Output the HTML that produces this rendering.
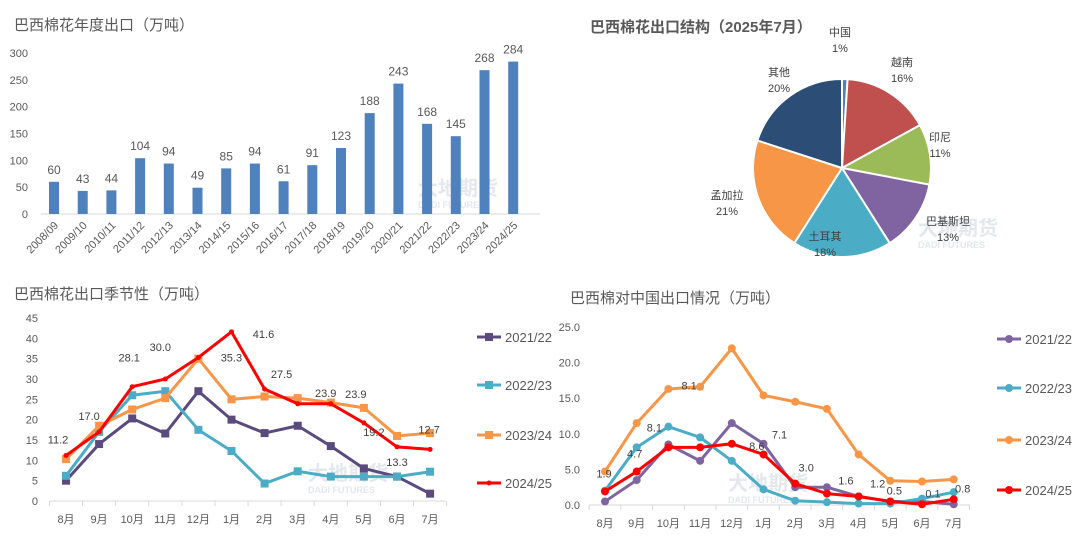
<!DOCTYPE html>
<html><head><meta charset="utf-8">
<style>
body{margin:0;background:#fff;width:1080px;height:546px;overflow:hidden;font-family:"Liberation Sans","Noto Sans CJK SC",sans-serif;}
svg text{font-family:"Liberation Sans","Noto Sans CJK SC",sans-serif;}
</style></head>
<body>
<svg id="s" width="1080" height="546">
<text x="14" y="30" font-size="15" fill="#595959">巴西棉花年度出口（万吨）</text>
<text x="590" y="32" font-size="15" font-weight="bold" fill="#595959">巴西棉花出口结构（2025年7月）</text>
<text x="14" y="299" font-size="15" fill="#595959">巴西棉花出口季节性（万吨）</text>
<text x="570" y="303" font-size="15" fill="#595959">巴西棉对中国出口情况（万吨）</text>
<g id="bar"></g>
<g id="pie"></g>
<g id="l1"></g>
<g id="l2"></g>
</svg>
<script>
const NS="http://www.w3.org/2000/svg";
function mk(p,t,a,txt){const e=document.createElementNS(NS,t);for(const k in a)e.setAttribute(k,a[k]);if(txt!==undefined)e.textContent=txt;p.appendChild(e);return e;}

// ---- bar chart data
const barCats=["2008/09","2009/10","2010/11","2011/12","2012/13","2013/14","2014/15","2015/16","2016/17","2017/18","2018/19","2019/20","2020/21","2021/22","2022/23","2023/24","2024/25"];
const barVals=[60,43,44,104,94,49,85,94,61,91,123,188,243,168,145,268,284];
const barTicks=[0,50,100,150,200,250,300];

// ---- pie data
const pieCats=["中国","越南","印尼","巴基斯坦","土耳其","孟加拉","其他"];
const pieVals=[1,16,11,13,18,21,20];

// ---- seasonal data
const months=["8月","9月","10月","11月","12月","1月","2月","3月","4月","5月","6月","7月"];
const seriesNames=["2021/22","2022/23","2023/24","2024/25"];
const s1_2122=[5,14,20.3,16.6,27,20,16.7,18.5,13.5,8,6,1.8];
const s1_2223=[6.2,17,26,27,17.5,12.3,4.3,7.3,6,6,6,7.2];
const s1_2324=[10.3,18.5,22.5,25.3,35,25,25.7,25.3,24.2,22.9,16,16.7];
const s1_2425=[11.2,17.0,28.1,30.0,35.3,41.6,27.5,23.9,23.9,19.2,13.3,12.7];
const ticks1=[0,5,10,15,20,25,30,35,40,45];

// ---- china data
const s2_2122=[0.5,3.5,8.5,6.2,11.5,8.6,2.5,2.5,1.2,0.5,0.5,0.1];
const s2_2223=[2,8.1,11,9.5,6.2,2.2,0.6,0.4,0.2,0.2,0.9,1.8];
const s2_2324=[4.7,11.5,16.3,16.6,22,15.4,14.5,13.5,7.1,3.4,3.3,3.6];
const s2_2425=[1.9,4.7,8.1,8.1,8.6,7.1,3.0,1.6,1.2,0.5,0.1,0.8];
const ticks2=[0,5,10,15,20,25];

function watermark(g,x,y){
  const w=mk(g,"text",{x:x,y:y,"font-size":20,"font-weight":"bold",fill:"#e3e8ee"},"大地期货");
  
  
  mk(g,"text",{x:x,y:y+13,"font-size":9,"font-weight":"bold",fill:"#e3e8ee"},"DADI FUTURES");
}

// BAR
(function(){
  const g=document.getElementById("bar");
  const y0=214,ppu=161/300,x0=54,dx=28.7;
  const Y=v=>y0-v*ppu, X=i=>x0+i*dx;
  watermark(g,418,195);
  barTicks.forEach(t=>{const e=mk(g,"text",{x:28,y:Y(t)+4,"font-size":11,fill:"#595959","text-anchor":"end"},t);
    });
  mk(g,"line",{x1:41,x2:540,y1:y0,y2:y0,stroke:"#d9d9d9"});
  barCats.forEach((c,i)=>{
    const r=mk(g,"rect",{x:X(i)-5,y:Y(barVals[i]),width:10,height:barVals[i]*ppu,fill:"#4f81bd"});
    
    mk(g,"text",{x:X(i),y:Y(barVals[i])-8,"font-size":12,fill:"#595959","text-anchor":"middle"},barVals[i]);
    const l=mk(g,"text",{x:X(i)+5,y:y0+12,"font-size":11,fill:"#595959","text-anchor":"end",transform:`rotate(-45 ${X(i)+5} ${y0+12})`},c);
    
  });
})();

// PIE
(function(){
  const g=document.getElementById("pie");
  const cx=842,cy=168,r=89;
  const cols=["#4f81bd","#c0504d","#9bbb59","#8064a2","#4bacc6","#f79646","#2c4d75"];
  const lab=[[840,36],[902,66],[940,141],[948,225],[825,240],[727,199],[779,76]];
  watermark(g,918,235);
  const tot=pieVals.reduce((a,b)=>a+b,0);let a=-Math.PI/2;
  pieVals.forEach((v,i)=>{
    const a2=a+v/tot*2*Math.PI;
    const x1=cx+r*Math.cos(a),y1=cy+r*Math.sin(a),x2=cx+r*Math.cos(a2),y2=cy+r*Math.sin(a2);
    const p=mk(g,"path",{d:`M${cx},${cy}L${x1},${y1}A${r},${r} 0 ${a2-a>Math.PI?1:0} 1 ${x2},${y2}Z`,fill:cols[i],stroke:"#fff","stroke-width":2});
    
    const t=mk(g,"text",{x:lab[i][0],y:lab[i][1],"font-size":11,fill:"#404040","text-anchor":"middle"},pieCats[i]);
    
    mk(g,"text",{x:lab[i][0],y:lab[i][1]+16,"font-size":11,fill:"#404040","text-anchor":"middle"},v+"%");
    a=a2;
  });
})();

function lineChart(id,cfg){
  const g=document.getElementById(id);
  const Y=v=>cfg.y0-v*cfg.ppu, X=i=>cfg.x0+i*cfg.dx;
  watermark(g,cfg.wx,cfg.wy);
  cfg.ticks.forEach(t=>{const e=mk(g,"text",{x:cfg.tx,y:Y(t)+4,"font-size":11,fill:"#595959","text-anchor":"end"},cfg.fmt(t));
    });
  mk(g,"line",{x1:cfg.ax1,x2:cfg.ax2,y1:cfg.y0,y2:cfg.y0,stroke:"#d9d9d9"});
  for(let i=0;i<=months.length;i++){const xx=X(i)-cfg.dx/2;mk(g,"line",{x1:xx,x2:xx,y1:cfg.y0,y2:cfg.y0+5,stroke:"#d9d9d9"});}
  months.forEach((m,i)=>{const e=mk(g,"text",{x:X(i),y:cfg.y0+22,"font-size":11,fill:"#595959","text-anchor":"middle"},m);
    });
  cfg.series.forEach((s,k)=>{
    const pts=s.map((v,i)=>X(i)+","+Y(v)).join(" ");
    const pl=mk(g,"polyline",{points:pts,fill:"none",stroke:cfg.cols[k],"stroke-width":3,"stroke-linejoin":"round"});
    
    s.forEach((v,i)=>{
      if(cfg.marker[k]==="sq") mk(g,"rect",{x:X(i)-4,y:Y(v)-4,width:8,height:8,fill:cfg.cols[k]});
      else mk(g,"circle",{cx:X(i),cy:Y(v),r:cfg.marker[k]==="d"?2.5:4,fill:cfg.cols[k]});
    });
    const ly=cfg.legY[k];
    const li=mk(g,"line",{x1:cfg.legX,x2:cfg.legX+24,y1:ly,y2:ly,stroke:cfg.cols[k],"stroke-width":3});
    
    if(cfg.marker[k]==="sq") mk(g,"rect",{x:cfg.legX+8,y:ly-4,width:8,height:8,fill:cfg.cols[k]});
    else mk(g,"circle",{cx:cfg.legX+12,cy:ly,r:cfg.marker[k]==="d"?2.5:4,fill:cfg.cols[k]});
    mk(g,"text",{x:cfg.legX+28,y:ly+5,"font-size":13,fill:"#595959"},seriesNames[k]);
  });
  const lab=cfg.series[3];
  lab.forEach((v,i)=>{const o=cfg.labOff[i];
    mk(g,"text",{x:X(i)+o[0],y:Y(v)+o[1],"font-size":11,fill:"#404040","text-anchor":"middle"},v.toFixed(1));});
}

lineChart("l1",{y0:501,ppu:183/45,x0:66,dx:33.1,tx:38,ax1:50,ax2:446,ticks:ticks1,fmt:t=>t,
  series:[s1_2122,s1_2223,s1_2324,s1_2425],cols:["#5b4a7e","#4bacc6","#f79646","#ff0000"],marker:["sq","sq","sq","d"],
  legX:477,legY:[337,385,435,483],wx:308,wy:480,
  labOff:[[-8,-12],[-10,-12],[-3,-25],[-5,-28],[33,4],[32,6],[17,-11],[28,-7],[25,-6],[10,13],[0,19],[-1,-16]]});
lineChart("l2",{y0:505,ppu:178/25,x0:605,dx:31.7,tx:580,ax1:589,ax2:970,ticks:ticks2,fmt:t=>t.toFixed(1),
  series:[s2_2122,s2_2223,s2_2324,s2_2425],cols:["#8064a2","#4bacc6","#f79646","#ff0000"],marker:["c","c","c","c"],
  legX:997,legY:[339,388,440,490],wx:728,wy:490,
  labOff:[[-1,-14],[-2,-14],[-14,-16],[-11,-58],[25,6],[16,-16],[11,-12],[19,-9],[19,-9],[4,-7],[11,-7],[9,-7]]});
</script>
</body></html>
